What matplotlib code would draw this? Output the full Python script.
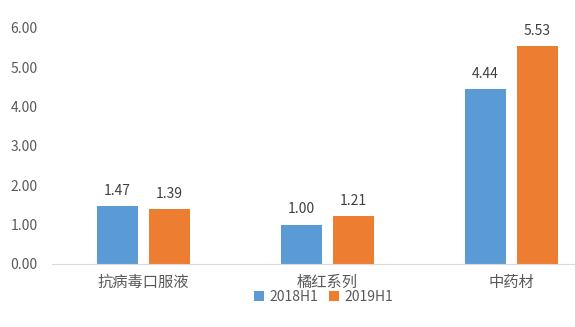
import matplotlib
matplotlib.use("Agg")
import matplotlib.pyplot as plt
import numpy as np

plt.rcParams['font.family'] = ['Noto Sans CJK SC', 'DejaVu Sans']

categories = ["抗病毒口服液", "橘红系列", "中药材"]
series_names = ["2018H1", "2019H1"]
values_2018 = [1.47, 1.00, 4.44]
values_2019 = [1.39, 1.21, 5.53]
colors = ["#5B9BD5", "#ED7D31"]

fig = plt.figure(figsize=(5.75, 3.27), dpi=100)
ax = fig.add_axes([0.0896, 0.1927, 0.9104, 0.7217])

x = np.arange(len(categories))
w = 0.223
off = 0.141
text_c = "#595959"

for vals, sign, c, name in [(values_2018, -1, colors[0], series_names[0]),
                            (values_2019, 1, colors[1], series_names[1])]:
    bars = ax.bar(x + sign * off, vals, width=w, color=c, label=name, zorder=2)
    for b, v in zip(bars, vals):
        ax.text(b.get_x() + b.get_width() / 2, v + 0.22, f"{v:.2f}",
                ha="center", va="bottom", fontsize=10, color="#404040")

ax.set_xlim(-0.5, 2.345)
ax.set_ylim(0, 6)
ax.set_yticks(np.arange(0, 7, 1))
ax.set_yticklabels([f"{t:.2f}" for t in range(7)], fontsize=10, color=text_c)
ax.set_xticks(x)
ax.set_xticklabels(categories, fontsize=11, color=text_c)
ax.tick_params(axis="both", length=0)
ax.tick_params(axis="y", pad=10)
ax.tick_params(axis="x", pad=7)
for s in ["top", "right", "left"]:
    ax.spines[s].set_visible(False)
ax.spines["bottom"].set_color("#D9D9D9")

leg = ax.legend(loc="center", bbox_to_anchor=(0.52, -0.14), ncol=2,
                frameon=False, fontsize=10, handlelength=0.7, handleheight=0.7,
                columnspacing=0.8, handletextpad=0.4)
for t in leg.get_texts():
    t.set_color(text_c)

fig.savefig("out.png", dpi=100)
